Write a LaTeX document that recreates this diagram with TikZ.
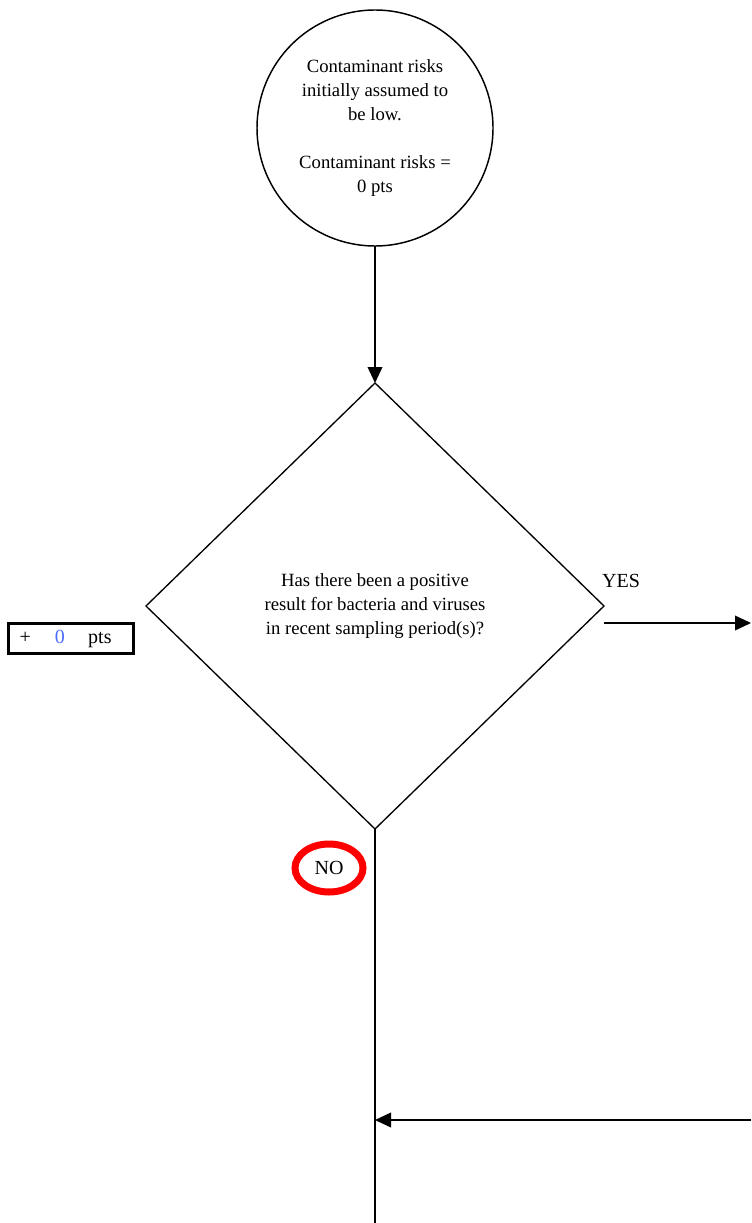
\documentclass[tikz,border=0pt]{standalone}
\usepackage{fontspec}
\setmainfont{Liberation Serif}
\usetikzlibrary{shapes.geometric,arrows.meta}
\definecolor{ptsblue}{RGB}{74,108,250}

\begin{document}
\begin{tikzpicture}[x=0.75pt,y=0.75pt,yscale=-1,xscale=1,
        flowline/.style={line width=1.2pt},
        flowarrow/.style={flowline,-{Triangle[length=12pt,width=11pt]}},
        flowtext/.style={font=\fontsize{14}{18}\selectfont,align=center},
        bigtext/.style={font=\fontsize{15}{18}\selectfont}]
        \useasboundingbox (0,0) rectangle (751,1223);
        
        %Shape: Circle
        \node [circle,draw,line width=1.1pt,minimum size=177pt,inner sep=0pt,outer sep=0pt,flowtext] (start) at (375,128) {Contaminant risks\\initially assumed to\\be low.\\[18pt]Contaminant risks =\\0 pts};
        %Shape: Diamond
        \node [diamond,draw,line width=1pt,minimum width=343.5pt,minimum height=334.5pt,inner sep=0pt,outer sep=0pt,flowtext] (dia) at (375,606) {Has there been a positive\\result for bacteria and viruses\\in recent sampling period(s)?};
        %Shape: Rectangle
        \node [draw,line width=2.25pt,minimum height=23pt,text width=77.25pt,inner xsep=8.6pt,inner ysep=0pt,align=left,bigtext] (pts) at (71,638.5) {+\hspace{18pt}\textcolor{ptsblue}{0}\hspace{17.6pt}pts};
        %Shape: Ellipse
        \node [ellipse,draw=red,line width=5.25pt,minimum width=51pt,minimum height=36pt,inner sep=0pt,bigtext] (no) at (329,868) {NO};
        
        %Straight Lines
        \coordinate (yesstart) at (604,623);
        \coordinate (yesend) at (751,623);
        \coordinate (mainend) at (375,1223);
        \coordinate (backstart) at (751,1120);
        \draw [flowarrow] (start.south) -- (dia.north);
        \draw [flowarrow] (yesstart) -- (yesend);
        \draw [flowline] (dia.south) -- (mainend);
        \draw [flowarrow] (backstart) -- (backstart -| dia.south);
        
        % Text Node
        \node [bigtext] (yes) at (621,581) {YES};
        
\end{tikzpicture}
\end{document}
